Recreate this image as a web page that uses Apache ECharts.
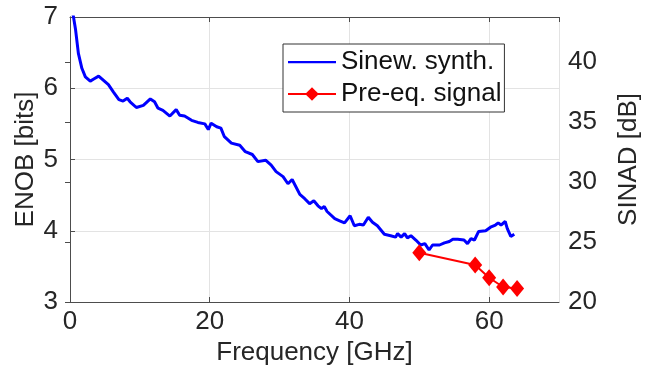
<!DOCTYPE html>
<html>
<head>
<meta charset="utf-8">
<script src="https://cdn.jsdelivr.net/npm/echarts@6/dist/echarts.min.js"></script>
<style>
html,body{margin:0;padding:0;background:#fff;}
#chart{width:653px;height:373px;}
</style>
</head>
<body>
<div id="chart"></div>
<script>
var freqSinew = [0,0.5,0.8,1.2,1.7,2.2,2.9,3.4,4.1,4.8,5.5,6.2,7.0,7.6,8.2,8.6,9.5,10.5,11.5,12.1,12.6,13.3,14.3,15.2,15.7,16.4,17.4,18.3,19.3,19.8,20.2,21.0,21.6,22.1,23.1,24.3,25.1,26.1,26.9,28.0,28.8,29.5,30.5,31.2,31.8,32.9,33.6,34.3,34.9,35.5,36.0,36.4,36.8,37.9,38.6,39.3,40.1,40.7,41.4,42.0,42.7,43.3,44.0,45.0,45.9,46.6,46.9,47.4,47.9,48.3,48.8,49.5,50.2,50.8,51.4,51.9,52.9,53.6,54.3,54.8,55.5,56.4,56.9,57.4,57.9,58.5,59.5,60.2,60.9,61.3,61.7,62.3,62.6,63.1,63.6];
var enobSinew = [7.3,7.0,6.82,6.49,6.28,6.16,6.10,6.13,6.17,6.11,6.05,5.95,5.84,5.82,5.86,5.81,5.73,5.76,5.85,5.81,5.72,5.69,5.61,5.70,5.62,5.61,5.55,5.52,5.50,5.42,5.51,5.46,5.44,5.32,5.23,5.20,5.11,5.07,4.97,4.99,4.92,4.83,4.76,4.66,4.72,4.51,4.45,4.38,4.42,4.35,4.31,4.34,4.27,4.17,4.14,4.11,4.21,4.07,4.09,4.08,4.19,4.12,4.07,3.95,3.93,3.91,3.96,3.91,3.96,3.90,3.93,3.87,3.80,3.82,3.73,3.80,3.80,3.83,3.85,3.88,3.88,3.87,3.82,3.89,3.87,3.99,4.00,4.05,4.08,4.11,4.08,4.13,4.03,3.92,3.95];
var freqPreEq = [50,58,60,62,64];
var enobPreEq = [3.69,3.52,3.34,3.21,3.19];
var seriesNames = ['Sinew. synth.','Pre-eq. signal'];
var xTitle = 'Frequency [GHz]';
var yLeftTitle = 'ENOB [bits]';
var yRightTitle = 'SINAD [dB]';

function pairs(xs, ys){ return xs.map(function(x,i){ return [x, ys[i]]; }); }

var txt = '#262626';
var axisCol = '#4d4d4d';
var font = '"Liberation Sans", Arial, sans-serif';
var fs = 26;
var chart = echarts.init(document.getElementById('chart'));
chart.setOption({
  animation:false,
  backgroundColor:'#fff',
  textStyle:{fontFamily:font},
  grid:{left:70,right:94,top:17,bottom:71,containLabel:false},
  legend:{
    orient:'vertical', left:283, top:44,
    data:[
      {name:seriesNames[0], icon:'path://M0,0 L0,0 M0,7.5 L48,7.5 L48,9.7 L0,9.7 Z M0,17 L0,17'},
      {name:seriesNames[1]}
    ],
    itemWidth:48, itemHeight:17, itemGap:4,
    padding:[4,3,4,4],
    backgroundColor:'#fff', borderColor:'#333', borderWidth:1,
    textStyle:{fontSize:fs, lineHeight:28, color:'#111', fontFamily:font}
  },
  xAxis:[{
    type:'value', position:'bottom', min:0, max:70, interval:20,
    name:xTitle, nameLocation:'middle', nameGap:36,
    nameTextStyle:{fontSize:fs, color:txt, fontFamily:font},
    axisLine:{show:true,lineStyle:{color:axisCol,width:1}},
    axisTick:{show:true,inside:true,length:5,lineStyle:{color:axisCol}},
    axisLabel:{fontSize:fs,color:txt,margin:7,showMaxLabel:false,fontFamily:font},
    splitLine:{show:true,lineStyle:{color:'#e3e3e3',width:1}}
  },{
    type:'value', position:'top', min:0, max:70, interval:20,
    axisLine:{show:true,lineStyle:{color:axisCol,width:1}},
    axisTick:{show:true,inside:true,length:5,lineStyle:{color:axisCol}},
    axisLabel:{show:false},
    splitLine:{show:false}
  }],
  yAxis:[{
    type:'value', position:'left', min:3, max:7, interval:1,
    name:yLeftTitle, nameLocation:'middle', nameGap:31, nameMoveOverlap:false,
    nameTextStyle:{fontSize:fs, color:txt, fontFamily:font},
    axisLine:{show:true,lineStyle:{color:axisCol,width:1}},
    axisTick:{show:true,inside:true,length:5,lineStyle:{color:axisCol}},
    axisLabel:{fontSize:fs,color:txt,margin:12,fontFamily:font},
    splitLine:{show:true,lineStyle:{color:'#e3e3e3',width:1}}
  },{
    type:'value', position:'right', min:20, max:43.75, interval:5,
    name:yRightTitle, nameLocation:'middle', nameGap:57, nameRotate:90,
    nameTextStyle:{fontSize:fs, color:txt, fontFamily:font},
    axisLine:{show:true,lineStyle:{color:axisCol,width:1}},
    axisTick:{show:true,inside:true,length:5,lineStyle:{color:axisCol}},
    axisLabel:{fontSize:fs,color:txt,margin:9,showMaxLabel:false,fontFamily:font},
    splitLine:{show:false}
  }],
  series:[{
    name:seriesNames[0], type:'line', xAxisIndex:0, yAxisIndex:0,
    data:pairs(freqSinew, enobSinew),
    symbol:'none', showSymbol:false, clip:true,
    lineStyle:{color:'#0000ff', width:3},
    itemStyle:{color:'#0000ff'}
  },{
    name:seriesNames[1], type:'line', xAxisIndex:0, yAxisIndex:0,
    data:pairs(freqPreEq, enobPreEq),
    symbol:'diamond', symbolSize:[14,17], clip:false,
    lineStyle:{color:'#ff0000', width:2},
    itemStyle:{color:'#ff0000'}
  }]
});
</script>
</body>
</html>
